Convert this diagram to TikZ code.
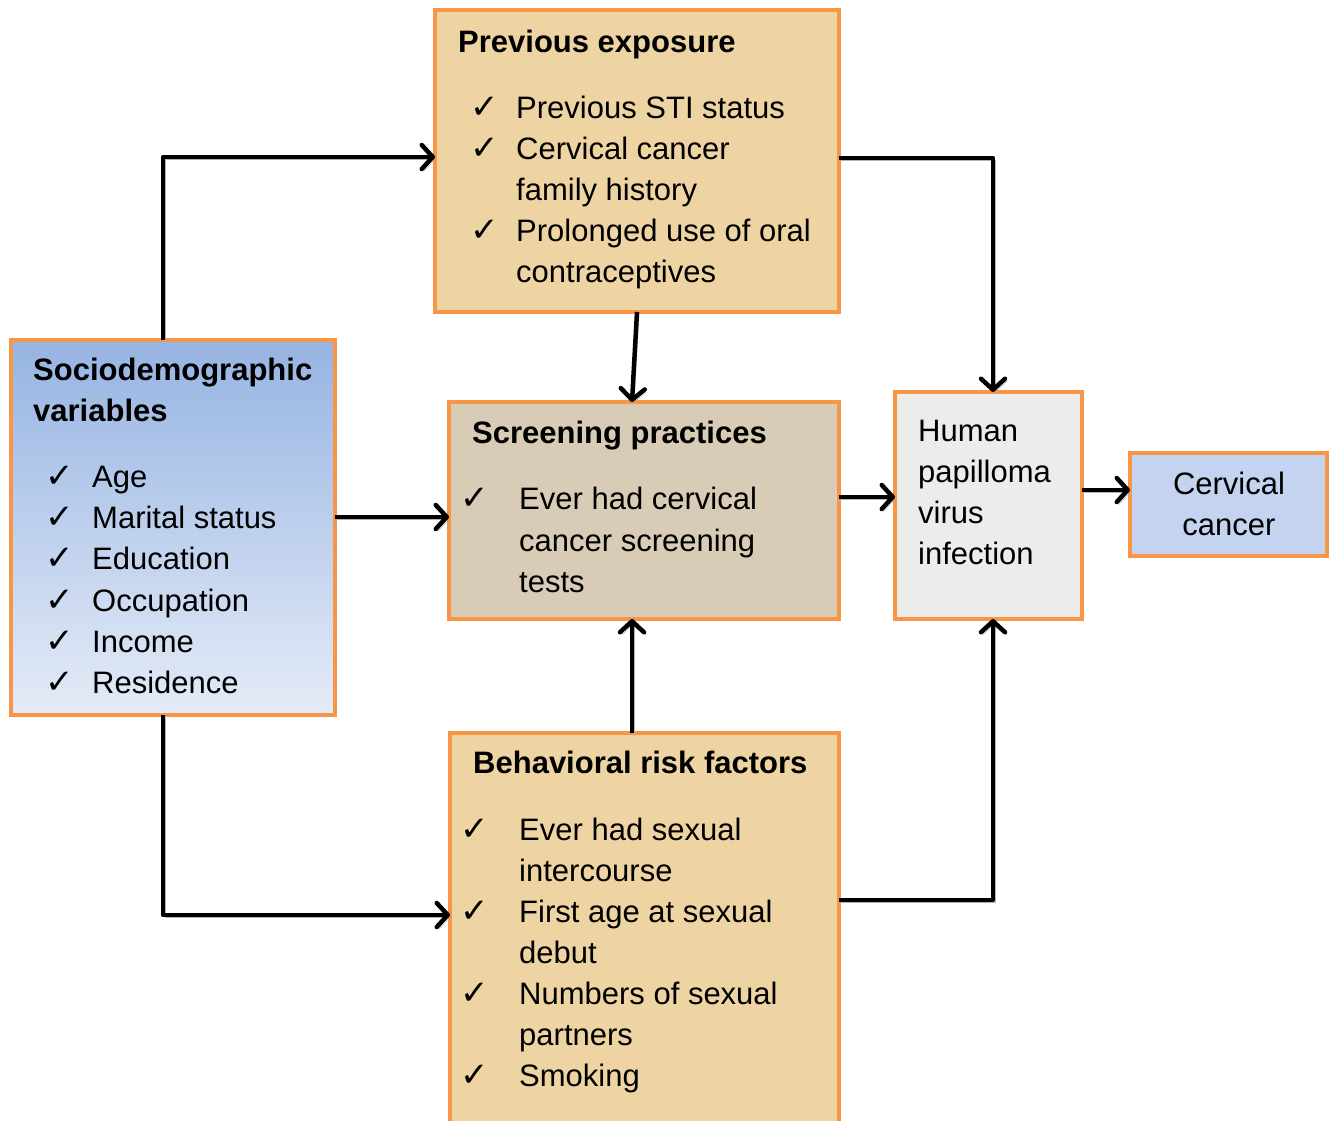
\documentclass[tikz,border=0pt]{standalone}
\usepackage{fontspec}
\setmainfont{Liberation Sans}
\newfontfamily\symfont{DejaVu Sans}
\usetikzlibrary{arrows.meta}
\definecolor{boxorange}{RGB}{247,150,70}
\definecolor{papyrus}{RGB}{238,212,162}
\definecolor{linen}{RGB}{216,204,182}
\definecolor{hpvgrey}{RGB}{236,236,234}
\definecolor{cancerblue}{RGB}{196,212,240}
\definecolor{sociotop}{RGB}{150,180,226}
\definecolor{sociobot}{RGB}{229,235,247}
\tikzset{
  box/.style={draw=boxorange, line width=4.5pt, inner sep=0pt, outer sep=0pt, anchor=north west},
  txt/.style={anchor=base west, inner sep=0pt, font=\fontsize{31}{37}\selectfont},
  ttl/.style={anchor=base west, inner sep=0pt, font=\fontsize{31}{37}\selectfont\bfseries},
  ctxt/.style={anchor=base, inner sep=0pt, font=\fontsize{31}{37}\selectfont},
  chk/.style={anchor=base west, inner sep=0pt, font=\symfont\fontsize{34}{40}\selectfont},
  conn/.style={line width=4.5pt, line join=round,
    -{Straight Barb[length=11pt,width=24pt,line width=4.5pt,round]},
    preaction={draw=black!30, transform canvas={shift={(2pt,-2.5pt)}}}}
}
\begin{document}
\begin{tikzpicture}[x=1pt,y=-1pt]
\useasboundingbox (0,0) rectangle (1335,1120);
% boxes
\node[box, fill=papyrus, minimum width=404pt, minimum height=302pt] (prev) at (435,10) {};
\node[box, top color=sociotop, bottom color=sociobot, minimum width=324pt, minimum height=375pt] (socio) at (11,340) {};
\node[box, fill=linen, minimum width=390pt, minimum height=217pt] (screen) at (449,402) {};
\node[box, fill=hpvgrey, minimum width=187pt, minimum height=227pt] (hpv) at (895,392) {};
\node[box, fill=cancerblue, minimum width=197pt, minimum height=103pt] (cancer) at (1130,453) {};
\node[box, fill=papyrus, minimum width=389pt, minimum height=391pt] (behav) at (450,733) {};

% previous exposure text
\node[ttl] (pt) at (458,52) {Previous exposure};
\node[chk] (pc1) at (470,118) {✓};
\node[txt] (p1) at (516,118) {Previous STI status};
\node[chk] (pc2) at (470,159) {✓};
\node[txt] (p2) at (516,159) {Cervical cancer};
\node[txt] (p3) at (516,200) {family history};
\node[chk] (pc3) at (470,241) {✓};
\node[txt] (p4) at (516,241) {Prolonged use of oral};
\node[txt] (p5) at (516,282) {contraceptives};

% sociodemographic text
\node[ttl] (st1) at (33,380) {Sociodemographic};
\node[ttl] (st2) at (33,421) {variables};
\node[chk] (sc1) at (45,487) {✓};
\node[txt] (s1) at (92,487) {Age};
\node[chk] (sc2) at (45,528) {✓};
\node[txt] (s2) at (92,528) {Marital status};
\node[chk] (sc3) at (45,569) {✓};
\node[txt] (s3) at (92,569) {Education};
\node[chk] (sc4) at (45,611) {✓};
\node[txt] (s4) at (92,611) {Occupation};
\node[chk] (sc5) at (45,652) {✓};
\node[txt] (s5) at (92,652) {Income};
\node[chk] (sc6) at (45,693) {✓};
\node[txt] (s6) at (92,693) {Residence};

% screening text
\node[ttl] (rt) at (472,443) {Screening practices};
\node[chk] (rc1) at (460,509) {✓};
\node[txt] (r1) at (519,509) {Ever had cervical};
\node[txt] (r2) at (519,551) {cancer screening};
\node[txt] (r3) at (519,592) {tests};

% HPV text
\node[txt] (h1) at (918,441) {Human};
\node[txt] (h2) at (918,482) {papilloma};
\node[txt] (h3) at (918,523) {virus};
\node[txt] (h4) at (918,564) {infection};

% cancer text
\node[ctxt] (k1) at (1229,494) {Cervical};
\node[ctxt] (k2) at (1229,535) {cancer};

% behavioral text
\node[ttl] (bt) at (473,773) {Behavioral risk factors};
\node[chk] (bc1) at (460,840) {✓};
\node[txt] (b1) at (519,840) {Ever had sexual};
\node[txt] (b2) at (519,881) {intercourse};
\node[chk] (bc2) at (460,922) {✓};
\node[txt] (b3) at (519,922) {First age at sexual};
\node[txt] (b4) at (519,963) {debut};
\node[chk] (bc3) at (460,1004) {✓};
\node[txt] (b5) at (519,1004) {Numbers of sexual};
\node[txt] (b6) at (519,1045) {partners};
\node[chk] (bc4) at (460,1086) {✓};
\node[txt] (b7) at (519,1086) {Smoking};

% bend coordinates
\coordinate (j1) at (163,157);
\coordinate (j2) at (163,915);
\coordinate (j3) at (993,158);
\coordinate (j4) at (993,900);
\coordinate (a1) at (637,312);
\coordinate (a2) at (632,402);

% connectors
\draw[conn] (j1 |- socio.north) -- (j1) -- (j1 -| prev.west);
\draw[conn] (socio.east |- 0,517) -- (screen.west |- 0,517);
\draw[conn] (j2 |- socio.south) -- (j2) -- (j2 -| behav.west);
\draw[conn] (a1 |- prev.south) -- (a2 |- screen.north);
\draw[conn] (j3 -| prev.east) -- (j3) -- (j3 |- hpv.north);
\draw[conn] (screen.east |- 0,497) -- (hpv.west |- 0,497);
\draw[conn] (a2 |- behav.north) -- (a2 |- screen.south);
\draw[conn] (j4 -| behav.east) -- (j4) -- (j4 |- hpv.south);
\draw[conn] (hpv.east |- 0,490) -- (cancer.west |- 0,490);
\end{tikzpicture}
\end{document}
